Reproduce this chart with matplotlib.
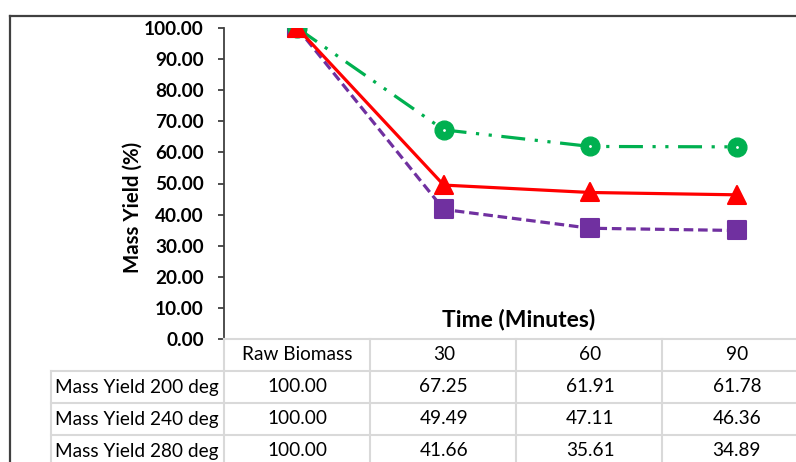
import matplotlib
matplotlib.use("Agg")
import matplotlib.pyplot as plt
from matplotlib.lines import Line2D
from matplotlib.markers import MarkerStyle
from matplotlib.transforms import blended_transform_factory

# data
categories = ["Raw Biomass", "30", "60", "90"]
series_names = ["Mass Yield 200 deg", "Mass Yield 240 deg", "Mass Yield 280 deg"]
yield_200 = [100.00, 67.25, 61.91, 61.78]
yield_240 = [100.00, 49.49, 47.11, 46.36]
yield_280 = [100.00, 41.66, 35.61, 34.89]
y_ticks = [0, 10, 20, 30, 40, 50, 60, 70, 80, 90, 100]

W, H = 796, 462
FONT = "Lato"
plt.rcParams["font.family"] = [FONT, "DejaVu Sans"]

fig = plt.figure(figsize=(W / 100, H / 100), dpi=100)


def fx(x):
    return x / W


def fy(y):
    return 1 - y / H


# plot area in pixels: x 224..810, y 28..339
ax = fig.add_axes([fx(224), fy(339), (810 - 224) / W, (339 - 28) / H])
xs = list(range(len(categories)))

green, red, purple = "#00B050", "#FF0000", "#7030A0"
lw = 2.3

ax.plot(xs, yield_280, color=purple, lw=lw, dashes=(3, 1.5), zorder=2,
        marker=MarkerStyle("s", joinstyle="round"), ms=12.5,
        mfc=purple, mec=purple, mew=1.5)
ax.plot(xs, yield_200, color=green, lw=lw, dashes=(7.5, 3, 1, 3, 1, 3), zorder=3,
        marker="o", ms=13.5, mfc=green, mec=green)
ax.plot(xs, yield_200, ls="none", marker=".", ms=2, color="white", zorder=3.5)
ax.plot(xs, yield_240, color=red, lw=lw, zorder=4,
        marker=MarkerStyle("^", joinstyle="round"), ms=13,
        mfc=red, mec=red, mew=1.5)

ax.set_xlim(-0.5, len(categories) - 0.5)
ax.set_ylim(0, 100)
ax.set_yticks(y_ticks)
ax.set_yticklabels([f"{v:.2f}" for v in y_ticks], fontsize=13.7, fontweight="bold")
ax.set_xticks([])
for s in ["top", "right", "bottom"]:
    ax.spines[s].set_visible(False)
ax.spines["left"].set_color("#404040")
ax.spines["left"].set_linewidth(1.3)
ax.tick_params(axis="y", direction="out", length=4.5, width=1.3, color="#404040", pad=10)
ax.patch.set_alpha(0)

fig.text(fx(519), fy(319), "Time (Minutes)", ha="center", va="center",
         fontsize=16.5, fontweight="bold")
fig.text(fx(133), fy(207), "Mass Yield (%)", ha="center", va="center",
         fontsize=14.7, fontweight="bold", rotation=90)

# data table
grid = "#D9D9D9"
tl = dict(color=grid, lw=1.5, transform=fig.transFigure)
row_tops = [339, 371, 403, 435]
col_edges = [224, 370, 516, 662, 808]
fig.add_artist(Line2D([fx(224), fx(810)], [fy(339), fy(339)], **tl))
for y in row_tops[1:]:
    fig.add_artist(Line2D([fx(51), fx(810)], [fy(y), fy(y)], **tl))
for x in col_edges:
    fig.add_artist(Line2D([fx(x), fx(x)], [fy(339), fy(470)], **tl))
fig.add_artist(Line2D([fx(51), fx(51)], [fy(371), fy(470)], **tl))

tr = blended_transform_factory(ax.transData, fig.transFigure)
tfs = 13.7
for i, c in enumerate(categories):
    fig.text(i, fy(355), c, transform=tr, ha="center", va="center", fontsize=tfs)
for r, (name, vals) in enumerate(zip(series_names, [yield_200, yield_240, yield_280])):
    yc = fy(387 + 32 * r)
    fig.text(fx(55), yc, name, ha="left", va="center", fontsize=tfs)
    for i, v in enumerate(vals):
        fig.text(i, yc, f"{v:.2f}", transform=tr, ha="center", va="center", fontsize=tfs)

# outer chart border (cropped)
bl = dict(color="#404040", lw=1.6, transform=fig.transFigure)
fig.add_artist(Line2D([fx(9.5), fx(800)], [fy(15.5), fy(15.5)], **bl))
fig.add_artist(Line2D([fx(9.5), fx(9.5)], [fy(15.5), fy(470)], **bl))

fig.savefig("out.png", dpi=100)
